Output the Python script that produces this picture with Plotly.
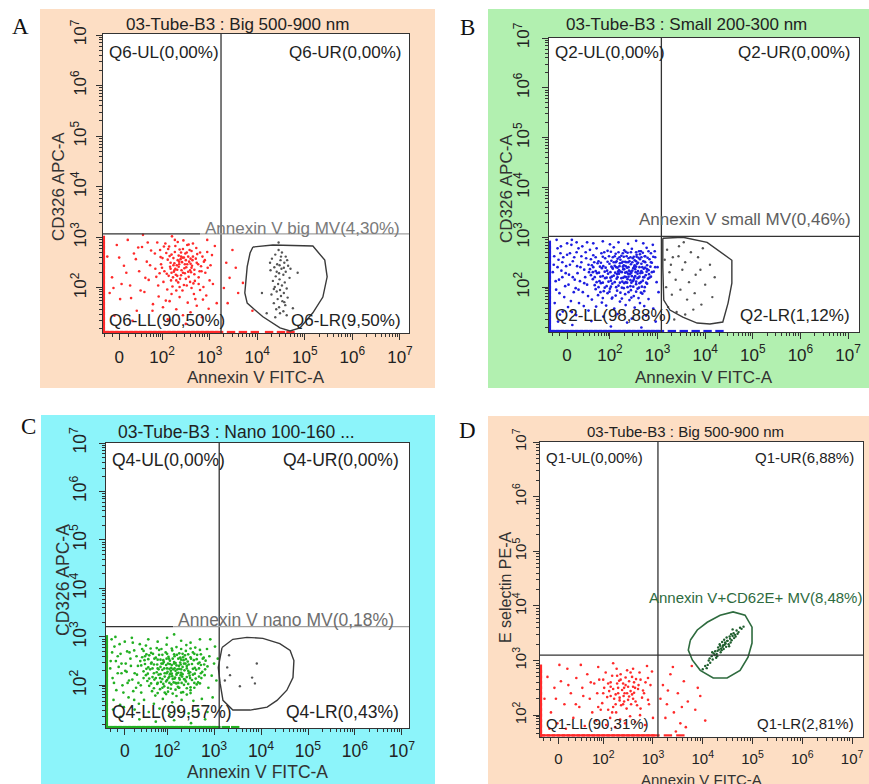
import math
import plotly.graph_objects as go

W, H = 869, 784
FONT = "Liberation Sans, Arial, Helvetica, sans-serif"
SERIF = "Liberation Serif, Times New Roman, serif"

# ---------------- axis ticks (decade units: k means 10^k; biexponential "0" at 1.1) ----------------
x_tick_vals = [1.1, 2, 3, 4, 5, 6, 7]
x_tick_text = ["0", "10<sup>2</sup>", "10<sup>3</sup>", "10<sup>4</sup>", "10<sup>5</sup>", "10<sup>6</sup>", "10<sup>7</sup>"]
y_tick_vals = [2, 3, 4, 5, 6, 7]
y_tick_text = ["10<sup>2</sup>", "10<sup>3</sup>", "10<sup>4</sup>", "10<sup>5</sup>", "10<sup>6</sup>", "10<sup>7</sup>"]
x_low_minor = [0.8, 0.95, 1.3, 1.45, 1.57, 1.67, 1.75, 1.82, 1.88, 1.93, 1.97]
y_low_minor = [1.2, 1.35, 1.48, 1.58, 1.67, 1.75, 1.82, 1.88, 1.93, 1.97]

# ---------------- texts ----------------
panel_letters = ["A", "B", "C", "D"]
panel_titles = ["03-Tube-B3 : Big 500-900 nm", "03-Tube-B3 : Small 200-300 nm",
                "03-Tube-B3 : Nano 100-160 ...", "03-Tube-B3 : Big 500-900 nm"]
x_titles = ["Annexin V FITC-A", "Annexin V FITC-A", "Annexin V FITC-A", "Annexin V FITC-A"]
y_titles = ["CD326 APC-A", "CD326 APC-A", "CD326 APC-A", "E selectin PE-A"]
quad_labels = [
    ["Q6-UL(0,00%)", "Q6-UR(0,00%)", "Q6-LL(90,50%)", "Q6-LR(9,50%)"],
    ["Q2-UL(0,00%)", "Q2-UR(0,00%)", "Q2-LL(98,88%)", "Q2-LR(1,12%)"],
    ["Q4-UL(0,00%)", "Q4-UR(0,00%)", "Q4-LL(99,57%)", "Q4-LR(0,43%)"],
    ["Q1-UL(0,00%)", "Q1-UR(6,88%)", "Q1-LL(90,31%)", "Q1-LR(2,81%)"],
]
gate_labels = ["Annexin V big MV(4,30%)", "Annexin V small MV(0,46%)",
               "Annexin V nano MV(0,18%)", "Annexin V+CD62E+ MV(8,48%)"]

# ---------------- quadrant thresholds (decades) ----------------
quad_x = [3.24, 3.08, 3.11, 3.10]
quad_y = [3.07, 3.02, 3.21, 3.10]

# ---------------- gates (decades) ----------------
gate_a_x = [3.91, 4.33, 5.17, 5.42, 5.47, 5.38, 5.17, 4.90, 4.69, 4.48, 4.12, 3.79, 3.74, 3.79, 3.85]
gate_a_y = [2.81, 2.85, 2.83, 2.55, 2.22, 1.82, 1.51, 1.21, 1.15, 1.21, 1.43, 1.70, 1.90, 2.42, 2.69]
gate_b_x = [3.11, 3.53, 4.04, 4.37, 4.56, 4.56, 4.48, 4.37, 4.10, 3.83, 3.53, 3.26, 3.13, 3.11]
gate_b_y = [2.98, 3.00, 2.90, 2.68, 2.54, 2.08, 1.68, 1.30, 1.26, 1.28, 1.40, 1.54, 1.74, 2.40]
gate_c_x = [3.17, 3.40, 3.70, 4.04, 4.40, 4.62, 4.70, 4.68, 4.55, 4.34, 4.13, 3.77, 3.40, 3.19, 3.13, 3.09]
gate_c_y = [2.78, 2.95, 2.99, 2.97, 2.86, 2.72, 2.51, 2.16, 1.90, 1.69, 1.55, 1.49, 1.49, 1.69, 2.04, 2.37]
gate_d_x = [3.75, 3.89, 4.09, 4.35, 4.61, 4.85, 4.99, 4.99, 4.91, 4.75, 4.49, 4.21, 3.95, 3.79, 3.71]
gate_d_y = [3.37, 3.56, 3.70, 3.83, 3.89, 3.83, 3.61, 3.32, 3.06, 2.82, 2.68, 2.68, 2.82, 3.01, 3.19]

# ---------------- events (decades) ----------------
a_red = [[2.31,2.45],[2.42,2.51],[2.18,2.38],[2.55,2.62],[2.27,2.71],[2.48,2.29],[2.63,2.44],[2.12,2.56],[2.38,2.18],[2.71,2.58],
         [2.05,2.33],[2.44,2.77],[2.59,2.12],[2.22,2.03],[2.35,2.64],[2.68,2.36],[2.15,2.82],[2.51,2.41],[2.29,2.26],[2.77,2.21],
         [1.98,2.47],[2.46,2.06],[2.62,2.73],[2.33,2.91],[2.19,2.15],[2.57,2.52],[2.41,2.35],[2.74,2.67],[2.09,2.69],[2.26,2.49],
         [2.53,2.85],[2.37,2.02],[2.66,2.09],[2.14,2.24],[2.82,2.43],[2.49,2.68],[2.24,2.59],[2.61,2.31],[2.03,2.12],[2.39,2.57],
         [2.72,2.79],[2.17,2.42],[2.56,2.22],[2.32,2.36],[2.85,2.62],[2.45,2.94],[2.11,1.97],[2.64,2.55],[2.28,2.83],[2.52,2.05],
         [2.36,2.47],[2.69,2.14],[2.20,2.66],[2.47,2.39],[2.79,2.33],[2.01,2.59],[2.58,2.75],[2.34,2.11],[2.43,2.60],[2.25,2.32],
         [2.60,2.48],[2.88,2.52],[2.13,2.77],[2.50,2.55],[2.30,1.95],[2.76,2.47],[1.95,2.29],[2.40,2.70],[2.65,2.88],[2.23,2.21],
         [0.85,2.62],[0.95,2.21],[1.05,2.85],[1.12,1.78],[1.20,2.44],[1.28,2.95],[1.33,2.05],[1.41,2.68],[1.47,1.55],[1.52,2.33],
         [1.58,2.81],[1.63,1.92],[1.68,2.52],[1.72,2.16],[1.77,2.74],[1.81,1.68],[1.86,2.38],[1.90,2.90],[1.93,1.83],[1.97,2.61],
         [2.02,1.62],[2.07,2.88],[2.16,1.74],[2.21,3.02],[2.30,1.58],[2.37,1.82],[2.44,1.46],[2.54,1.71],[2.60,1.52],[2.67,1.88],
         [2.73,1.65],[2.80,1.96],[2.86,1.77],[2.91,2.30],[2.95,2.71],[2.98,1.59],[3.02,2.45],[3.07,2.08],[3.11,2.83],[3.15,1.70],
         [1.00,1.45],[0.90,1.90],[1.15,2.08],[1.38,1.35],[1.60,3.05],[2.12,1.38],[2.50,1.29],[2.84,1.42],[2.95,2.95],[1.45,2.57],
         [3.35,2.50],[3.42,2.20],[3.55,2.40],[3.60,1.90],[3.38,1.70],[3.70,2.10],[3.48,2.75],[3.30,2.00],[3.90,1.55],
         [1.65,2.20],[1.75,2.45],[1.85,2.68],[1.92,2.05],[2.00,2.40],[2.04,2.82],[2.10,2.28],[2.16,2.63],[2.20,1.88],[2.24,2.45],
         [2.27,2.95],[2.30,2.15],[2.33,2.55],[2.37,2.76],[2.40,2.25],[2.43,1.95],[2.46,2.60],[2.50,2.18],[2.53,2.47],[2.56,2.86],
         [2.59,2.35],[2.62,2.00],[2.65,2.62],[2.68,2.27],[2.70,1.78],[2.73,2.50],[2.77,2.08],[2.80,2.70],[2.83,2.33],[2.87,2.02],
         [2.90,2.55],[2.93,1.85],[2.96,2.40],[3.00,2.15],[3.05,2.65],[1.55,1.95],[1.70,2.90],[1.80,1.55],[1.88,2.22],[1.96,2.75],
         [2.08,1.75],[2.18,2.50],[2.26,2.35],[2.35,2.42],[2.44,2.30],[2.52,2.70],[2.60,2.58],[2.36,2.52],[2.28,2.38],[2.48,2.47],
         [2.40,2.62],[2.55,2.32],[2.32,2.24],[2.20,2.30],[2.62,2.40],[1.25,2.30],[1.10,2.60],[0.98,2.00],[1.35,1.80],[1.50,2.80]]
a_gray = [[4.45,2.75],[4.52,2.70],[4.38,2.66],[4.60,2.62],[4.31,2.58],[4.49,2.55],[4.57,2.50],[4.42,2.47],[4.65,2.44],[4.36,2.41],
          [4.51,2.38],[4.28,2.35],[4.60,2.32],[4.46,2.29],[4.55,2.26],[4.39,2.23],[4.68,2.20],[4.47,2.17],[4.33,2.14],[4.58,2.11],
          [4.44,2.08],[4.52,2.05],[4.37,2.02],[4.62,1.99],[4.48,1.96],[4.41,1.93],[4.56,1.90],[4.30,1.87],[4.50,1.84],[4.64,1.81],
          [4.43,1.78],[4.53,1.74],[4.35,1.70],[4.59,1.66],[4.46,1.62],[4.40,1.58],[4.55,1.54],[4.48,1.50],[4.62,1.46],[4.38,1.42],
          [4.50,2.62],[4.56,2.40],[4.41,2.32],[4.63,2.55],[4.47,2.45],[4.27,2.50],[4.70,2.38],[4.35,1.98],[4.57,1.72],[4.45,2.90],
          [4.10,1.90],[4.85,2.30],[4.20,1.50],[4.75,1.60]]
a_floor = 1.13
a_floor_x = [0.8,0.9,1.0,1.1,1.2,1.3,1.4,1.5,1.6,1.7,1.8,1.9,2.0,2.1,2.2,2.3,2.4,2.5,2.6,2.7,2.8,2.9,3.0,3.1,3.2,3.45,3.7,3.95,4.25,4.5,4.7]
a_wall = 0.78
a_wall_y = [1.15,1.25,1.35,1.45,1.55,1.65,1.75,1.85,1.95,2.05,2.15,2.25,2.35,2.45,2.55,2.65,2.75,2.85,2.95]

b_blue = [[1.72,2.78],[1.95,2.73],[2.08,2.80],[2.30,2.74],[2.46,2.77],[2.61,2.72],[2.77,2.79],
          [1.65,2.64],[1.82,2.68],[1.98,2.62],[2.12,2.67],[2.24,2.63],[2.37,2.69],[2.50,2.61],[2.63,2.66],[2.74,2.62],[2.86,2.68],
          [1.60,2.56],[1.76,2.52],[1.90,2.58],[2.03,2.53],[2.16,2.57],[2.27,2.51],[2.39,2.58],[2.52,2.54],[2.60,2.59],[2.70,2.52],[2.83,2.56],[2.20,2.60],
          [1.62,2.44],[1.74,2.48],[1.86,2.42],[1.99,2.47],[2.10,2.43],[2.21,2.48],[2.33,2.42],[2.44,2.46],[2.55,2.41],[2.66,2.47],[2.78,2.44],[2.88,2.49],[2.05,2.39],[2.38,2.50],
          [1.58,2.36],[1.70,2.32],[1.83,2.38],[1.94,2.33],[2.06,2.37],[2.17,2.31],[2.28,2.36],[2.40,2.33],[2.49,2.38],[2.59,2.32],[2.71,2.37],[2.81,2.34],[2.92,2.31],[2.13,2.40],[2.45,2.29],
          [1.60,2.24],[1.73,2.28],[1.85,2.22],[1.96,2.27],[2.08,2.23],[2.19,2.27],[2.31,2.21],[2.42,2.26],[2.53,2.22],[2.64,2.28],[2.75,2.24],[2.86,2.21],[2.25,2.30],[2.01,2.19],
          [1.64,2.16],[1.78,2.12],[1.90,2.18],[2.02,2.13],[2.14,2.17],[2.26,2.11],[2.37,2.16],[2.48,2.12],[2.58,2.18],[2.69,2.13],[2.80,2.17],[2.34,2.20],
          [1.68,2.04],[1.81,2.08],[1.93,2.02],[2.05,2.07],[2.18,2.03],[2.30,2.08],[2.43,2.02],[2.55,2.06],[2.67,2.01],[2.78,2.07],
          [1.70,1.96],[1.87,1.92],[2.00,1.97],[2.15,1.93],[2.29,1.98],[2.44,1.94],[2.58,1.97],[2.72,1.92],
          [1.75,1.84],[1.95,1.88],[2.12,1.83],[2.32,1.86],[2.50,1.82],[2.68,1.87],
          [2.22,2.55],[2.35,2.62],[2.48,2.58],[2.57,2.47],[2.68,2.40],[2.29,2.44],[2.41,2.52],[2.53,2.36],[2.63,2.56],[2.74,2.50],
          [2.19,2.34],[2.32,2.29],[2.46,2.22],[2.58,2.27],[2.70,2.20],[2.24,2.18],[2.36,2.09],[2.50,2.15],[2.62,2.08],[2.12,2.50],
          [2.27,2.68],[2.44,2.70],[2.56,2.65],[2.66,2.32],[2.78,2.36],[2.15,2.26],[2.39,2.40],[2.52,2.44],[2.60,2.19],[2.34,2.50],
          [2.47,2.33],[2.73,2.62],[2.20,2.42],[2.43,2.14],[2.65,2.72],[2.30,2.36],[2.55,2.52],[2.82,2.26],[2.10,2.62],[2.38,2.27],
          [0.82,2.45],[0.86,2.12],[0.90,2.78],[0.94,1.88],[0.98,2.33],[1.02,2.60],[1.06,2.02],[1.10,2.88],[1.14,2.25],[1.18,1.72],
          [1.22,2.52],[1.26,2.15],[1.30,2.70],[1.34,1.95],[1.38,2.40],[1.42,2.82],[1.46,2.08],[1.50,2.58],[1.54,1.82],[1.56,2.30],
          [0.84,1.68],[0.92,2.55],[1.00,2.20],[1.08,2.42],[1.16,2.68],[1.24,1.90],[1.32,2.28],[1.40,2.62],[1.48,2.20],[1.52,2.90],
          [0.88,2.95],[1.20,2.95],[1.35,1.68],[1.12,1.60],[0.96,2.68],
          [1.65,2.88],[1.85,2.92],[2.00,2.86],[2.18,2.90],[2.38,2.87],[2.55,2.93],[2.70,2.88],[2.90,2.85],[2.95,2.60],[3.00,2.40],
          [2.98,2.10],[3.02,1.90],[2.94,2.72],
          [1.62,1.75],[1.83,1.69],[2.04,1.77],[2.21,1.71],[2.41,1.74],[2.63,1.68],[2.81,1.76],[1.71,1.61],[1.92,1.63],[2.09,1.57],
          [2.33,1.64],[2.52,1.59],[2.72,1.62],[2.91,1.57],[1.01,1.51],[1.29,1.44],[1.55,1.53],[1.86,1.41],[2.16,1.46],[2.46,1.37],
          [2.76,1.43],[0.91,1.31],[1.21,1.24],[1.61,1.32],[2.02,1.21],[2.36,1.29],[2.66,1.19],[2.96,1.31],
          [1.88,2.70],[2.02,2.71],[2.18,2.70],[2.33,2.71],[2.55,2.70],[2.69,2.69],[2.81,2.72],
          [1.70,2.60],[1.85,2.61],[2.06,2.60],[2.29,2.61],[2.43,2.60],[2.56,2.61],[2.66,2.60],[2.79,2.59],[2.91,2.61],
          [1.67,2.50],[1.81,2.49],[1.95,2.51],[2.08,2.50],[2.25,2.49],[2.32,2.51],[2.47,2.50],[2.59,2.49],[2.73,2.51],[2.86,2.50],[2.14,2.52],
          [1.65,2.40],[1.79,2.41],[1.91,2.39],[2.03,2.41],[2.16,2.39],[2.27,2.41],[2.36,2.39],[2.51,2.41],[2.62,2.40],[2.74,2.39],[2.85,2.41],[2.95,2.40],
          [1.64,2.30],[1.77,2.29],[1.89,2.31],[2.01,2.30],[2.11,2.29],[2.22,2.31],[2.35,2.30],[2.43,2.31],[2.54,2.30],[2.68,2.29],[2.77,2.31],[2.88,2.30],
          [1.68,2.20],[1.80,2.21],[1.93,2.19],[2.04,2.21],[2.16,2.20],[2.28,2.19],[2.39,2.21],[2.51,2.19],[2.62,2.21],[2.72,2.20],[2.83,2.19],
          [1.72,2.10],[1.85,2.09],[1.97,2.11],[2.10,2.10],[2.21,2.09],[2.33,2.10],[2.45,2.09],[2.55,2.11],[2.65,2.10],[2.76,2.09],
          [1.76,2.00],[1.89,1.99],[2.02,2.01],[2.13,2.00],[2.25,1.99],[2.37,2.00],[2.49,2.01],[2.61,1.99],[2.73,2.00],
          [1.80,1.90],[1.99,1.91],[2.22,1.89],[2.39,1.90],[2.55,1.91],[2.65,1.89],
          [1.85,1.78],[2.05,1.79],[2.25,1.77],[2.45,1.79],[2.60,1.78],
          [0.80,2.30],[0.83,2.62],[0.87,1.95],[0.90,2.40],[0.93,2.15],[0.97,2.82],[1.00,2.50],[1.04,1.80],[1.07,2.28],[1.10,2.65],
          [1.13,2.05],[1.16,2.45],[1.19,2.85],[1.22,2.20],[1.25,2.60],[1.28,1.98],[1.31,2.42],[1.34,2.78],[1.37,2.12],[1.40,2.50],
          [1.43,1.90],[1.46,2.35],[1.49,2.70],[1.52,2.05],[1.55,2.45],[1.58,2.75],[1.45,1.62],[1.20,1.50],[0.95,1.45],[1.30,2.90]]
b_gray = [[3.20,2.75],[3.32,2.60],[3.45,2.82],[3.58,2.50],[3.70,2.70],[3.85,2.60],[3.95,2.78],[4.10,2.45],[3.25,2.30],[3.38,2.15],
          [3.52,2.35],[3.66,2.10],[3.80,2.25],[4.00,2.05],[3.18,2.00],[3.30,1.85],[3.48,1.95],[3.62,1.75],[3.78,1.88],[3.92,1.65],
          [4.15,1.80],[3.22,1.60],[3.40,1.50],[3.58,1.45],[3.75,1.55],[3.28,2.45],[3.44,2.62],[3.90,2.35],[3.15,2.55],[4.20,2.20],
          [3.55,2.90],[3.35,1.35]]
b_floor = 1.12
b_floor_x = [0.75,0.85,0.95,1.05,1.15,1.25,1.35,1.45,1.55,1.65,1.75,1.85,1.95,2.05,2.15,2.25,2.35,2.45,2.55,2.65,2.75,2.85,2.95,3.05,3.3,3.55,3.8,4.05,4.3]
b_wall = 0.74
b_wall_y = [1.15,1.25,1.35,1.45,1.55,1.65,1.75,1.85,1.95,2.05,2.15,2.25,2.35,2.45,2.55,2.65,2.75,2.85]

c_green = [[1.55,2.82],[1.78,2.77],[1.99,2.84],[2.20,2.79],[2.41,2.83],[2.60,2.78],
           [1.50,2.71],[1.66,2.67],[1.83,2.73],[1.97,2.68],[2.11,2.72],[2.26,2.66],[2.40,2.71],[2.55,2.68],[2.70,2.73],
           [1.47,2.58],[1.62,2.62],[1.76,2.57],[1.90,2.63],[2.03,2.59],[2.15,2.64],[2.28,2.57],[2.38,2.62],[2.50,2.58],[2.64,2.63],[2.78,2.57],
           [1.52,2.52],[1.67,2.47],[1.80,2.53],[1.93,2.48],[2.06,2.51],[2.18,2.46],[2.30,2.53],[2.44,2.49],[2.57,2.52],[2.69,2.47],[2.82,2.51],[2.12,2.55],[2.36,2.45],
           [1.45,2.41],[1.60,2.37],[1.72,2.43],[1.86,2.38],[1.98,2.42],[2.09,2.36],[2.20,2.41],[2.33,2.38],[2.46,2.43],[2.59,2.36],[2.72,2.42],[2.86,2.39],[2.02,2.45],[2.26,2.34],
           [1.50,2.29],[1.64,2.33],[1.78,2.27],[1.90,2.32],[2.01,2.28],[2.13,2.33],[2.24,2.26],[2.37,2.31],[2.49,2.27],[2.62,2.32],[2.75,2.28],[2.07,2.24],[2.18,2.30],
           [1.55,2.21],[1.69,2.17],[1.82,2.22],[1.95,2.18],[2.06,2.23],[2.17,2.16],[2.29,2.21],[2.42,2.17],[2.55,2.22],[2.68,2.18],[2.80,2.21],[2.11,2.19],
           [1.58,2.09],[1.73,2.12],[1.87,2.07],[2.00,2.11],[2.14,2.06],[2.27,2.12],[2.40,2.08],[2.53,2.11],[2.66,2.06],
           [1.62,1.99],[1.79,2.03],[1.94,1.98],[2.09,2.02],[2.23,1.97],[2.36,2.01],[2.50,1.96],[2.63,2.02],
           [1.68,1.88],[1.85,1.92],[2.02,1.87],[2.18,1.91],[2.34,1.86],[2.50,1.90],
           [1.75,1.79],[1.98,1.82],[2.20,1.78],[2.42,1.81],
           [1.88,2.45],[2.00,2.35],[2.15,2.48],[2.25,2.40],[2.35,2.52],[1.95,2.25],[2.08,2.30],[2.20,2.22],[2.32,2.18],[2.45,2.30],
           [1.85,2.15],[1.98,2.08],[2.12,2.13],[2.24,2.05],[2.38,2.12],[2.04,2.55],[2.16,2.60],[2.28,2.47],[2.42,2.40],[1.92,2.52],
           [2.10,2.42],[2.22,2.33],[2.30,2.26],[2.05,2.18],[2.18,2.05],[2.48,2.20],[1.80,2.35],[2.34,2.58],[2.02,1.95],[2.26,1.95],
           [0.80,2.50],[0.84,2.15],[0.88,2.80],[0.92,1.90],[0.97,2.38],[1.01,2.65],[1.05,2.00],[1.10,2.90],[1.14,2.28],[1.18,1.75],
           [1.22,2.55],[1.26,2.12],[1.30,2.72],[1.34,1.95],[1.38,2.40],[1.42,2.85],[0.86,1.70],[0.95,2.60],[1.03,2.25],[1.12,2.45],
           [1.20,2.68],[1.28,1.88],[1.36,2.22],[1.44,2.00],[0.90,3.00],[1.25,2.98],[1.40,1.62],[1.08,1.55],[0.82,2.95],[1.16,2.05],
           [2.90,2.60],[2.95,2.20],[3.00,2.45],[3.02,2.80],[2.88,1.95],[2.97,1.75],[2.92,2.95],[3.05,2.10],[2.85,2.75],[3.08,2.55],
           [1.60,2.95],[1.80,2.90],[2.00,2.98],[2.30,2.92],[2.50,2.88],[2.70,2.95],[2.15,3.05],
           [1.51,1.70],[1.72,1.62],[1.91,1.72],[2.11,1.65],[2.31,1.70],[2.56,1.68],[2.74,1.72],[1.31,1.50],[1.61,1.45],[1.84,1.52],
           [2.05,1.40],[2.25,1.48],[2.46,1.42],[2.66,1.50],[2.86,1.45],[1.01,1.35],[1.41,1.30],[1.76,1.25],[2.15,1.28],[2.51,1.22],[2.81,1.30],
           [1.65,2.76],[1.88,2.75],[2.10,2.76],[2.30,2.75],[2.50,2.76],
           [1.56,2.64],[1.70,2.65],[1.83,2.63],[2.00,2.65],[2.21,2.63],[2.33,2.65],[2.45,2.64],[2.58,2.65],[2.72,2.64],
           [1.60,2.54],[1.73,2.55],[1.86,2.53],[1.99,2.55],[2.24,2.55],[2.40,2.54],[2.51,2.55],[2.63,2.54],[2.76,2.55],
           [1.53,2.44],[1.66,2.45],[1.79,2.43],[1.91,2.45],[2.06,2.44],[2.15,2.45],[2.29,2.43],[2.39,2.45],[2.53,2.44],[2.66,2.45],[2.79,2.43],
           [1.56,2.34],[1.69,2.35],[1.82,2.33],[1.94,2.35],[2.05,2.34],[2.16,2.35],[2.30,2.33],[2.42,2.35],[2.55,2.34],[2.68,2.35],[2.81,2.33],
           [1.59,2.24],[1.72,2.25],[1.86,2.23],[1.99,2.25],[2.10,2.24],[2.21,2.25],[2.33,2.23],[2.46,2.25],[2.59,2.24],[2.72,2.25],
           [1.62,2.14],[1.76,2.15],[1.90,2.13],[2.03,2.15],[2.16,2.14],[2.26,2.15],[2.36,2.13],[2.49,2.15],[2.61,2.14],[2.73,2.15],
           [1.66,2.04],[1.80,2.05],[1.92,2.03],[2.05,2.05],[2.20,2.04],[2.31,2.05],[2.45,2.03],[2.58,2.05],[2.70,2.04],
           [1.72,1.94],[1.90,1.95],[2.08,1.93],[2.25,1.95],[2.42,1.94],[2.58,1.95],
           [1.80,1.84],[1.95,1.85],[2.12,1.83],[2.30,1.85],[2.50,1.84],
           [0.79,2.35],[0.83,2.68],[0.87,2.05],[0.91,2.50],[0.95,2.25],[0.99,2.85],[1.03,2.45],[1.07,1.85],[1.11,2.30],[1.15,2.70],
           [1.19,2.10],[1.23,2.40],[1.27,2.88],[1.31,2.25],[1.35,2.60],[1.39,2.05],[1.43,2.50],[1.47,2.75],[1.50,2.15],[1.53,2.60],
           [1.00,1.60],[1.30,1.70],[1.45,1.85],[0.85,1.50]]
c_gray = [[3.32,2.62],[3.91,2.45],[3.81,2.16],[3.55,1.98],[3.87,2.04],[3.28,2.37],[3.34,2.21],[3.23,2.10]]
c_floor = 1.14
c_floor_x = [0.75,0.85,0.95,1.05,1.15,1.25,1.35,1.45,1.55,1.65,1.75,1.85,1.95,2.05,2.15,2.25,2.35,2.45,2.55,2.65,2.75,2.85,2.95,3.05,3.25,3.45]
c_wall = 0.72
c_wall_y = [1.15,1.25,1.35,1.45,1.55,1.65,1.75,1.85,1.95,2.05,2.15,2.25,2.35,2.45,2.55,2.65,2.75,2.85,2.95]

d_red = [[2.38,2.46],[2.25,2.38],[2.50,2.52],[2.15,2.60],[2.62,2.41],[2.33,2.27],[2.45,2.69],[2.08,2.33],[2.71,2.55],[2.28,2.58],
         [2.56,2.20],[2.20,2.15],[2.41,2.35],[2.66,2.66],[2.02,2.50],[2.52,2.62],[2.35,2.75],[2.78,2.32],[2.12,2.44],[2.47,2.12],
         [2.60,2.30],[2.30,2.50],[2.85,2.60],[1.98,2.22],[2.40,2.58],[2.18,2.72],[2.68,2.18],[2.55,2.44],[2.26,2.05],[2.73,2.78],
         [2.43,2.40],[1.92,2.65],[2.58,2.70],[2.10,2.10],[2.36,2.18],[2.80,2.45],[2.22,2.30],[2.48,2.82],[2.64,2.50],[2.05,2.78],
         [2.90,2.28],[2.32,2.63],[2.52,2.34],[1.88,2.40],[2.75,2.12],[2.15,2.52],[2.42,2.25],[2.60,2.85],[2.27,2.85],[2.95,2.55],
         [0.82,2.30],[0.88,2.70],[0.95,2.05],[1.02,2.50],[1.08,1.85],[1.15,2.62],[1.22,2.20],[1.28,2.85],[1.35,2.40],[1.40,1.95],
         [1.46,2.68],[1.52,2.15],[1.58,2.50],[1.63,1.80],[1.68,2.75],[1.73,2.30],[1.78,2.05],[1.82,2.58],[1.86,1.90],[1.90,2.88],
         [1.95,2.10],[2.00,2.65],[2.06,1.82],[2.14,1.95],[2.24,1.78],[2.34,1.92],[2.44,1.85],[2.54,1.98],[2.64,1.88],[2.74,2.00],
         [2.84,1.82],[2.92,2.20],[2.98,2.80],[3.00,1.95],[2.88,2.90],[1.25,1.75],[1.55,2.92],[0.92,1.75],[1.12,2.92],[2.20,2.95],
         [3.20,2.55],[3.28,2.20],[3.35,2.75],[3.42,2.05],[3.50,2.40],[3.55,1.85],[3.62,2.62],[3.70,2.25],[3.78,2.90],[3.85,2.10],
         [3.25,1.95],[3.40,2.88],[3.58,2.15],[3.66,1.78],[3.90,2.50],[3.95,2.35],[4.05,1.90],[3.30,2.45],[3.15,2.30],[3.46,1.70],
         [2.30,2.40],[2.45,2.55],[2.20,2.48],[2.58,2.38],[2.35,2.65],[2.50,2.28],[2.62,2.60],[2.15,2.35],[2.40,2.20],[2.70,2.48],
         [2.28,2.72],[2.55,2.78],[2.10,2.58],[2.65,2.25],[2.42,2.50],[2.33,2.32],[2.48,2.40],[2.60,2.52],[2.25,2.20],[2.75,2.65],
         [1.60,2.35],[1.75,2.60],[1.90,2.15],[2.00,2.40],[1.45,2.20],[1.30,2.55],[1.05,2.30],[2.82,2.40],[2.90,2.68],[2.18,2.05]]
d_green = [[4.41,3.28],[4.45,3.33],[4.37,3.22],[4.50,3.36],[4.33,3.20],[4.55,3.40],[4.28,3.12],[4.60,3.45],[4.24,3.10],[4.47,3.25],
           [4.39,3.34],[4.52,3.30],[4.35,3.27],[4.43,3.38],[4.30,3.18],[4.58,3.37],[4.48,3.42],[4.36,3.15],[4.62,3.50],[4.20,3.02],
           [4.65,3.47],[4.18,3.08],[4.42,3.21],[4.54,3.44],[4.27,3.05],[4.68,3.55],[4.15,2.96],[4.72,3.52],[4.12,3.00],[4.46,3.31],
           [4.40,3.25],[4.34,3.30],[4.56,3.33],[4.25,3.17],[4.63,3.41],[4.10,2.92],[4.75,3.60],[4.08,2.86],[4.78,3.58],[4.22,3.13],
           [4.49,3.36],[4.38,3.19],[4.57,3.48],[4.31,3.24],[4.44,3.29],[4.05,2.90],[4.82,3.62],[4.00,2.84],[4.70,3.49],[4.29,3.08],
           [4.53,3.26],[4.66,3.44],[4.19,3.15],[4.60,3.57],[4.14,3.04]]
d_floor = 1.63
d_floor_x = [0.75,0.85,0.95,1.05,1.15,1.25,1.35,1.45,1.55,1.65,1.75,1.85,1.95,2.05,2.15,2.25,2.35,2.45,2.55,2.65,2.75,2.85,2.95,3.05,3.3,3.55]
d_wall = 0.75
d_wall_y = [1.65,1.75,1.85,1.95,2.05,2.15,2.25,2.35,2.45,2.55,2.65,2.75,2.85]

# ---------------- layout geometry (pixels) ----------------
panels = [
    dict(ax="", plot=(103, 409, 34, 333), xr=[0.76, 7.19], yr=[1.11, 7.02], fs=17, bg=(40, 435, 9, 388), bgc="#FDDEC4",
         ystand=3, xstand=2),
    dict(ax="2", plot=(549, 859, 38, 332), xr=[0.72, 7.23], yr=[1.10, 7.00], fs=17, bg=(488, 869, 9, 388), bgc="#B2F0B0",
         ystand=6, xstand=1),
    dict(ax="3", plot=(106, 409, 443, 728), xr=[0.70, 7.15], yr=[1.12, 7.00], fs=17.5, bg=(41, 435, 415, 784), bgc="#8CF4FA",
         ystand=6, xstand=1),
    dict(ax="4", plot=(540, 863, 442, 737), xr=[0.73, 7.22], yr=[1.60, 7.00], fs=15, bg=(488, 869, 416, 784), bgc="#FDDEC4",
         ystand=1, xstand=2),
]

def fx(p):
    return p / W

def fy(p):
    return 1 - p / H

x_minor = x_low_minor + [k + math.log10(m) for k in range(2, 7) for m in range(2, 10)]
y_minor = y_low_minor + [k + math.log10(m) for k in range(2, 7) for m in range(2, 10)]

fig = go.Figure()
layout = dict(width=W, height=H, margin=dict(l=0, r=0, t=0, b=0, pad=0, autoexpand=False), autosize=False,
              paper_bgcolor="white", plot_bgcolor="rgba(0,0,0,0)", showlegend=False)
shapes = []
annotations = []

for p in panels:
    l, r, t, b = p["plot"]
    bl, br, bt, bb = p["bg"]
    shapes.append(dict(type="rect", xref="paper", yref="paper", x0=fx(bl), x1=fx(br), y0=fy(bb), y1=fy(bt),
                       fillcolor=p["bgc"], line=dict(width=0), layer="below"))
    shapes.append(dict(type="rect", xref="paper", yref="paper", x0=fx(l), x1=fx(r), y0=fy(b), y1=fy(t),
                       fillcolor="white", line=dict(width=0), layer="below"))
    tick_font = dict(family=FONT, size=p["fs"], color="#222")
    common = dict(showgrid=False, zeroline=False, showline=True, linecolor="#333", linewidth=1.4, mirror=True,
                  ticks="outside", ticklen=6, tickwidth=1, tickcolor="#333", tickfont=tick_font, fixedrange=True,
                  automargin=False)
    layout["xaxis" + p["ax"]] = dict(domain=[fx(l), fx(r)], range=p["xr"], anchor="y" + p["ax"],
                                     tickmode="array", tickvals=x_tick_vals, ticktext=x_tick_text,
                                     minor=dict(tickmode="array", tickvals=x_minor, ticklen=3, tickcolor="#333", showgrid=False),
                                     ticklabelstandoff=p["xstand"], **common)
    layout["yaxis" + p["ax"]] = dict(domain=[fy(b), fy(t)], range=p["yr"], anchor="x" + p["ax"],
                                     tickmode="array", tickvals=y_tick_vals, ticktext=y_tick_text, tickangle=-90,
                                     minor=dict(tickmode="array", tickvals=y_minor, ticklen=3, tickcolor="#333", showgrid=False),
                                     ticklabelstandoff=p["ystand"], **common)

def pts(trace_pts, axk, color, size):
    fig.add_trace(go.Scatter(x=[q[0] for q in trace_pts], y=[q[1] for q in trace_pts], mode="markers",
                             marker=dict(color=color, size=size, line=dict(width=0)),
                             xaxis="x" + axk, yaxis="y" + axk, hoverinfo="skip"))

def floor_wall(fx_list, fyv, wx, wy_list, axk, color):
    fig.add_trace(go.Scatter(x=fx_list, y=[fyv] * len(fx_list), mode="markers",
                             marker=dict(symbol="line-ew", size=6, line=dict(width=2.2, color=color)),
                             xaxis="x" + axk, yaxis="y" + axk, hoverinfo="skip"))
    fig.add_trace(go.Scatter(x=[wx] * len(wy_list), y=wy_list, mode="markers",
                             marker=dict(symbol="line-ns", size=6, line=dict(width=2.2, color=color)),
                             xaxis="x" + axk, yaxis="y" + axk, hoverinfo="skip"))

def gate(gx, gy, axk, color, width):
    fig.add_trace(go.Scatter(x=gx + gx[:1], y=gy + gy[:1], mode="lines", line=dict(color=color, width=width),
                             xaxis="x" + axk, yaxis="y" + axk, hoverinfo="skip"))

RED = "#FF2A2A"
pts(a_red, "", RED, 2.6)
floor_wall(a_floor_x, a_floor, a_wall, a_wall_y, "", RED)
pts(a_gray, "", "#555555", 2.4)
gate(gate_a_x, gate_a_y, "", "#3a3a3a", 1.4)

BLUE = "#1C1CE0"
pts(b_blue, "2", BLUE, 2.7)
floor_wall(b_floor_x, b_floor, b_wall, b_wall_y, "2", BLUE)
pts(b_gray, "2", "#555555", 2.4)
gate(gate_b_x, gate_b_y, "2", "#3a3a3a", 1.4)

GREEN = "#22B022"
pts(c_green, "3", GREEN, 2.7)
floor_wall(c_floor_x, c_floor, c_wall, c_wall_y, "3", GREEN)
pts(c_gray, "3", "#555555", 2.4)
gate(gate_c_x, gate_c_y, "3", "#3a3a3a", 1.4)

pts(d_red, "4", RED, 2.6)
floor_wall(d_floor_x, d_floor, d_wall, d_wall_y, "4", RED)
pts(d_green, "4", "#1F5E2E", 2.4)
gate(gate_d_x, gate_d_y, "4", "#2E6B3E", 1.6)

# quadrant lines
dark = "#333333"
hsplit = [2.80, None, 2.13, None]
for i, p in enumerate(panels):
    k = p["ax"]
    shapes.append(dict(type="line", xref="x" + k, yref="y" + k + " domain", x0=quad_x[i], x1=quad_x[i], y0=0, y1=1,
                       line=dict(color=dark, width=1.3)))
    if hsplit[i] is None:
        shapes.append(dict(type="line", xref="x" + k + " domain", yref="y" + k, x0=0, x1=1, y0=quad_y[i], y1=quad_y[i],
                           line=dict(color=dark, width=1.3)))
    else:
        shapes.append(dict(type="line", xref="x" + k, yref="y" + k, x0=p["xr"][0], x1=hsplit[i], y0=quad_y[i], y1=quad_y[i],
                           line=dict(color=dark, width=1.3)))
        shapes.append(dict(type="line", xref="x" + k, yref="y" + k, x0=hsplit[i], x1=p["xr"][1], y0=quad_y[i], y1=quad_y[i],
                           line=dict(color="#a0a0a0", width=1.3)))

def ann(text, x, y, size, xanchor="center", color="#222", family=FONT, angle=0):
    annotations.append(dict(text=text, x=fx(x), y=fy(y), xref="paper", yref="paper", xanchor=xanchor, yanchor="middle",
                            showarrow=False, textangle=angle, font=dict(family=family, size=size, color=color)))

# text placements (pixels)
text_pos = [
    dict(letter=(20, 26), title=(238, 25), ul=(107, 52), ur=(403, 52), ll=(107, 320), lr=(403, 320), gate=(203, 229),
         xt=(256, 377), yt=(58, 186), fs=17, gc="#7a7a7a"),
    dict(letter=(467, 28), title=(686, 25), ul=(553, 53), ur=(852, 53), ll=(553, 315), lr=(852, 315), gate=(637, 220),
         xt=(704, 377), yt=(506, 189), fs=17, gc="#5e5e5e"),
    dict(letter=(29, 426), title=(237, 432), ul=(110, 460), ur=(401, 460), ll=(110, 712), lr=(401, 712), gate=(176, 620),
         xt=(257, 772), yt=(63, 580), fs=17.5, gc="#6e6e6e"),
    dict(letter=(468, 430), title=(685, 431), ul=(544, 457), ur=(856, 457), ll=(544, 723), lr=(856, 723), gate=(647, 597),
         xt=(701, 779), yt=(505, 588), fs=15, gc="#2E6B3E"),
]
for i, tp in enumerate(text_pos):
    fs = tp["fs"]
    ann(panel_letters[i], *tp["letter"], 23, family=SERIF, color="#111")
    ann(panel_titles[i], *tp["title"], fs)
    ann(quad_labels[i][0], *tp["ul"], fs, xanchor="left")
    ann(quad_labels[i][1], *tp["ur"], fs, xanchor="right")
    ann(quad_labels[i][2], *tp["ll"], fs, xanchor="left")
    ann(quad_labels[i][3], *tp["lr"], fs, xanchor="right")
    ann(gate_labels[i], *tp["gate"], fs, xanchor="left", color=tp["gc"])
    ann(x_titles[i], *tp["xt"], fs, color="#333")
    ann(y_titles[i], *tp["yt"], fs if i < 3 else 16, color="#333", angle=-90)

layout["shapes"] = shapes
layout["annotations"] = annotations
fig.update_layout(**layout)
fig.write_html("out.html", config={"displayModeBar": False},
               post_script=("document.documentElement.style.margin='0';document.body.style.margin='0';"
                            "document.body.style.overflow='hidden';"
                            "var d=document.getElementById('{plot_id}');d.style.position='fixed';"
                            "d.style.left='0px';d.style.top='0px';"))
